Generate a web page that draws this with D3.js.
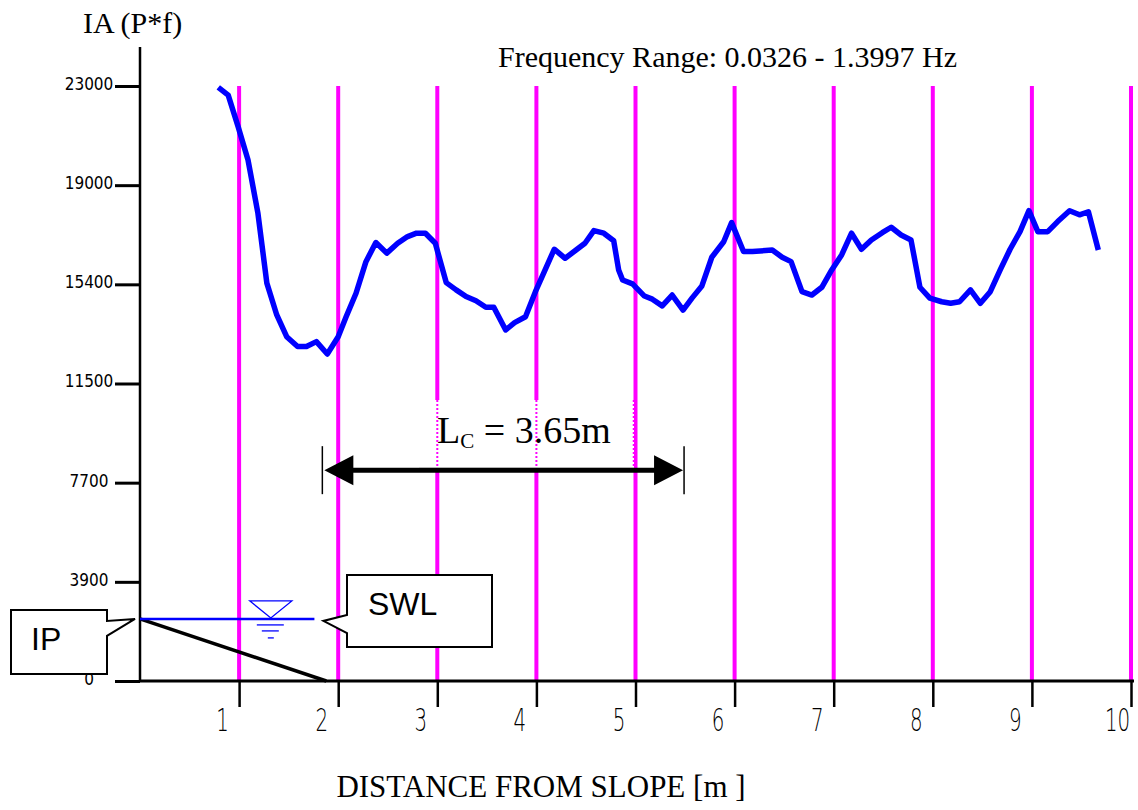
<!DOCTYPE html>
<html>
<head>
<meta charset="utf-8">
<script src="https://cdn.jsdelivr.net/npm/d3@7"></script>
<style>
  html, body { margin: 0; padding: 0; background: #fff; }
  svg { display: block; }
</style>
</head>
<body>
<svg id="chart"></svg>
<script>
// IA (P*f) along the flume
const distance = [0.79, 0.89, 0.99, 1.09, 1.19, 1.28, 1.38, 1.48, 1.59, 1.68, 1.78, 1.89, 2.00,
    2.08, 2.18, 2.28, 2.38, 2.49, 2.60, 2.70, 2.79, 2.88, 2.98,
    3.09, 3.19, 3.29, 3.39, 3.49, 3.57, 3.69, 3.78, 3.89, 3.99,
    4.08, 4.18, 4.29, 4.40, 4.49, 4.58, 4.68, 4.78, 4.83, 4.87, 4.97,
    5.09, 5.17, 5.27, 5.37, 5.48, 5.57, 5.67, 5.77, 5.89, 5.97,
    6.09, 6.18, 6.38, 6.48, 6.57, 6.68, 6.78, 6.88, 6.98,
    7.08, 7.18, 7.28, 7.38, 7.49, 7.58, 7.68, 7.78, 7.87, 7.97,
    8.09, 8.18, 8.27, 8.38, 8.48, 8.58, 8.68, 8.78, 8.88, 8.97,
    9.06, 9.16, 9.26, 9.38, 9.48, 9.57, 9.67];
const ia = [22950, 22650, 21430, 20140, 18080, 15380, 14150, 13310, 12930, 12930, 13120, 12640, 13310,
    14080, 14990, 16210, 16950, 16540, 16920, 17180, 17310, 17310, 16920,
    15400, 15120, 14860, 14700, 14450, 14450, 13570, 13850, 14080, 15050,
    15820, 16690, 16340, 16660, 16920, 17410, 17310, 17020, 15890, 15500, 15350,
    14880, 14760, 14500, 14920, 14340, 14800, 15270, 16380, 16980, 17720,
    16600, 16600, 16660, 16380, 16210, 15050, 14920, 15220, 15890,
    16470, 17310, 16690, 17050, 17330, 17540, 17240, 17050, 15220, 14800,
    14660, 14600, 14660, 15120, 14600, 15050, 15890, 16690, 17370, 18180,
    17370, 17370, 17760, 18180, 18020, 18140, 16660];

const xTicks = [1, 2, 3, 4, 5, 6, 7, 8, 9, 10];
const yTickLabels = ["0", "3900", "7700", "11500", "15400", "19000", "23000"];
const gridLines = [1, 2, 3, 4, 5, 6, 7, 8, 9, 10];

// annotation values (data units)
const swlLevel = 2400;      // still water level
const slopeToe = 1.88;      // slope meets the floor
const swlEnd = 1.76;
const lcStart = 1.84;
const lcLength = 3.65;
const lcLevel = 8150;

const width = 1138, height = 810;
const yMax = 23000;

const x = d3.scaleLinear().domain([0, 10]).range([140, 1131]);
const y = d3.scaleLinear().domain([0, yMax]).range([681, 86]);

const svg = d3.select("#chart")
    .attr("width", width)
    .attr("height", height)
    .attr("viewBox", [0, 0, width, height]);

const serif = "'Liberation Serif', 'Times New Roman', serif";
const narrow = "'Liberation Sans Narrow', 'Arial Narrow', 'DejaVu Sans Condensed', sans-serif";
const thin = "'DejaVu Sans', sans-serif";
const sans = "'Liberation Sans', Arial, sans-serif";

// magenta gauge lines
svg.append("g")
    .attr("stroke", "#ff00ff")
    .attr("stroke-width", 4)
    .selectAll("line")
    .data(gridLines)
    .join("line")
    .attr("x1", d => x(d)).attr("x2", d => x(d))
    .attr("y1", y(yMax)).attr("y2", y(0));

// y axis
const yAxis = d3.axisLeft(y)
    .tickValues(yTickLabels.map((_, i) => i * yMax / (yTickLabels.length - 1)))
    .tickFormat((_, i) => yTickLabels[i])
    .tickSize(25)
    .tickPadding(0);

const gy = svg.append("g")
    .attr("transform", `translate(${x(0)},0)`)
    .call(yAxis);
gy.select(".domain").remove();
gy.selectAll(".tick line").attr("stroke", "#000").attr("stroke-width", 3);
gy.selectAll(".tick text")
    .attr("x", -51)
    .attr("dy", "0.2em")
    .attr("text-anchor", "middle")
    .attr("font-family", narrow)
    .attr("font-size", 17)
    .attr("fill", "#000");

svg.append("line")
    .attr("x1", x(0)).attr("x2", x(0))
    .attr("y1", 47).attr("y2", y(0))
    .attr("stroke", "#000").attr("stroke-width", 2.5);

// x axis
const xAxis = d3.axisBottom(x)
    .tickValues(xTicks)
    .tickFormat(d3.format("d"))
    .tickSize(26)
    .tickPadding(0);

const gx = svg.append("g")
    .attr("transform", `translate(0,${y(0)})`)
    .call(xAxis);
gx.select(".domain").remove();
gx.selectAll(".tick line").attr("stroke", "#000").attr("stroke-width", 2.5);
gx.selectAll(".tick text")
    .attr("x", 0)
    .attr("y", 50)
    .attr("dy", 0)
    .attr("text-anchor", "middle")
    .attr("font-family", thin)
    .attr("font-weight", 200)
    .attr("font-size", 32)
    .attr("fill", "#000")
    .attr("transform", d => `translate(${d === 10 ? -14 : -17},0) scale(0.62,1)`);

svg.append("line")
    .attr("x1", x(0)).attr("x2", x(10) + 3)
    .attr("y1", y(0)).attr("y2", y(0))
    .attr("stroke", "#000").attr("stroke-width", 3);

// slope and still water level
svg.append("line")
    .attr("x1", x(0)).attr("y1", y(swlLevel))
    .attr("x2", x(slopeToe)).attr("y2", y(0))
    .attr("stroke", "#000").attr("stroke-width", 3.5);

svg.append("line")
    .attr("x1", x(0)).attr("y1", y(swlLevel))
    .attr("x2", x(swlEnd)).attr("y2", y(swlLevel))
    .attr("stroke", "#0000ff").attr("stroke-width", 2.5);

// water level symbol
const wx = x(1.32), wy = y(swlLevel);
const ws = svg.append("g").attr("stroke", "#0000ff").attr("fill", "none").attr("stroke-width", 1.3);
ws.append("path").attr("d", `M${wx - 21},${wy - 18}L${wx + 21},${wy - 18}L${wx},${wy - 1}Z`);
ws.append("line").attr("x1", wx - 14).attr("x2", wx + 13).attr("y1", wy + 6).attr("y2", wy + 6);
ws.append("line").attr("x1", wx - 9).attr("x2", wx + 8).attr("y1", wy + 12).attr("y2", wy + 12);
ws.append("line").attr("x1", wx - 3).attr("x2", wx + 3).attr("y1", wy + 19).attr("y2", wy + 19);

// IA curve
const line = d3.line()
    .x(d => x(d[0]))
    .y(d => y(d[1]));

svg.append("path")
    .datum(d3.zip(distance, ia))
    .attr("fill", "none")
    .attr("stroke", "#0000ff")
    .attr("stroke-width", 5.5)
    .attr("stroke-linejoin", "round")
    .attr("d", line);

// callouts
function callout(pathD, label, tx, ty) {
    svg.append("path")
        .attr("d", pathD)
        .attr("fill", "#fff")
        .attr("stroke", "#000")
        .attr("stroke-width", 2);
    svg.append("text")
        .attr("x", tx).attr("y", ty)
        .attr("font-family", sans)
        .attr("font-size", 32)
        .attr("fill", "#000")
        .text(label);
}
const sy = y(swlLevel);
callout(`M347,575H492V647H347V633L${x(swlEnd) + 9},${sy + 2}L347,615Z`, "SWL", 368, 615);
callout(`M11,610H107V${sy + 2}L${x(0) - 5},${sy}L107,${sy + 17}V674H11Z`, "IP", 31, 650);

// Lc annotation
const ax1 = x(lcStart), ax2 = x(lcStart + lcLength), ay = y(lcLevel);
svg.append("rect")
    .attr("x", 419).attr("y", 400)
    .attr("width", 215).attr("height", ay - 402)
    .attr("fill", "#fff");
svg.append("g")
    .attr("stroke", "#ff00ff").attr("stroke-width", 2).attr("stroke-dasharray", "2,2")
    .selectAll("line")
    .data([3, 4])
    .join("line")
    .attr("x1", d => x(d)).attr("x2", d => x(d))
    .attr("y1", 400).attr("y2", ay - 2);
svg.append("line")
    .attr("x1", x(5) - 2).attr("x2", x(5) - 2)
    .attr("y1", 400).attr("y2", ay - 2)
    .attr("stroke", "#ff00ff").attr("stroke-width", 1.5).attr("stroke-dasharray", "2,2");
svg.append("line")
    .attr("x1", 419).attr("x2", 634).attr("y1", ay - 2).attr("y2", ay - 2)
    .attr("stroke", "#c8c8c8").attr("stroke-width", 1);

svg.append("line")
    .attr("x1", ax1 + 20).attr("x2", ax2 - 20)
    .attr("y1", ay).attr("y2", ay)
    .attr("stroke", "#000").attr("stroke-width", 5);
svg.append("path")
    .attr("d", `M${ax1 + 2},${ay}L${ax1 + 31},${ay - 15}L${ax1 + 31},${ay + 15}Z M${ax2 - 1},${ay}L${ax2 - 30},${ay - 15}L${ax2 - 30},${ay + 15}Z`)
    .attr("fill", "#000");
svg.append("g")
    .attr("stroke", "#000").attr("stroke-width", 1.5)
    .selectAll("line")
    .data([ax1, ax2])
    .join("line")
    .attr("x1", d => d).attr("x2", d => d)
    .attr("y1", ay - 24).attr("y2", ay + 24);

const lc = svg.append("text")
    .attr("x", 437).attr("y", 443)
    .attr("font-family", serif)
    .attr("font-size", 38)
    .attr("fill", "#000");
lc.append("tspan").text("L");
lc.append("tspan").attr("font-size", 21).attr("dy", 5).text("C");
lc.append("tspan").attr("dy", -5).text(" = 3.65m");

// titles
svg.append("text")
    .attr("x", 83).attr("y", 33)
    .attr("font-family", serif).attr("font-size", 30)
    .text("IA (P*f)");

svg.append("text")
    .attr("x", 498).attr("y", 67)
    .attr("font-family", serif).attr("font-size", 30)
    .text("Frequency Range: 0.0326 - 1.3997 Hz");

svg.append("text")
    .attr("x", 541).attr("y", 797)
    .attr("text-anchor", "middle")
    .attr("font-family", serif).attr("font-size", 31)
    .text("DISTANCE FROM SLOPE [m ]");
</script>
</body>
</html>
